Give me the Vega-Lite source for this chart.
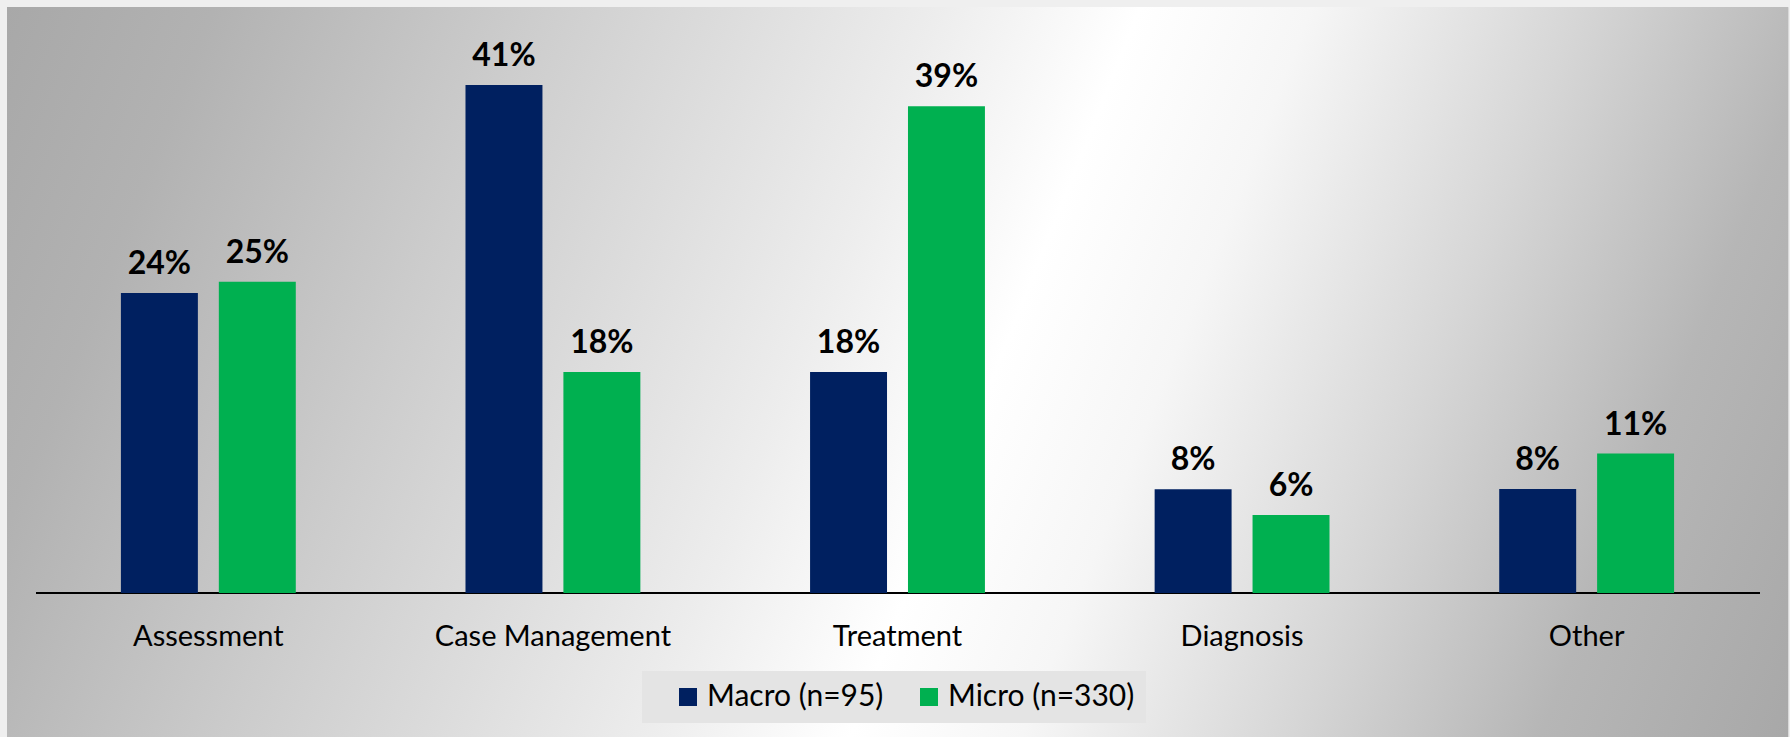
{
  "$schema": "https://vega.github.io/schema/vega-lite/v6.json",
  "autosize": {"type": "fit", "contains": "padding"},
  "width": 1790,
  "height": 737,
  "padding": {"left": 7, "top": 7, "right": 2, "bottom": 0},
  "background": "#efefef",
  "config": {"view": {"stroke": "#d9d9d9", "strokeWidth": 1}, "font": "Lato"},
  "resolve": {"scale": {"x": "independent"}},
  "layer": [
    {
      "data": {"values": [{"bg": 1}]},
      "mark": {
        "type": "rect",
        "fill": {
          "gradient": "linear",
          "x1": 0, "y1": 0, "x2": 1.133, "y2": 0.1847,
          "stops": [
            {"offset": 0, "color": "#a8a8a8"},
            {"offset": 0.1, "color": "#b2b2b2"},
            {"offset": 0.25, "color": "#cccccc"},
            {"offset": 0.45, "color": "#ededed"},
            {"offset": 0.547, "color": "#ffffff"},
            {"offset": 0.63, "color": "#f6f6f6"},
            {"offset": 0.76, "color": "#d6d6d6"},
            {"offset": 0.88, "color": "#b6b6b6"},
            {"offset": 1, "color": "#a8a8a8"}
          ]
        }
      },
      "encoding": {}
    },
    {
      "data": {"values": [{"axisline": 1}]},
      "mark": {"type": "rule", "color": "#000000", "strokeWidth": 2},
      "encoding": {
        "x": {"datum": 0, "type": "quantitative", "scale": {"domain": [-0.01682, 1.01624], "nice": false, "zero": false}, "axis": null},
        "x2": {"datum": 1},
        "y": {"datum": 0, "type": "quantitative", "scale": {"domain": [-0.11566, 0.47068], "nice": false, "zero": false}, "axis": null}
      }
    },
    {
      "data": {
        "values": [
          {"category": "Assessment", "series": "Macro (n=95)", "value": 0.241},
          {"category": "Assessment", "series": "Micro (n=330)", "value": 0.250},
          {"category": "Case Management", "series": "Macro (n=95)", "value": 0.408},
          {"category": "Case Management", "series": "Micro (n=330)", "value": 0.1775},
          {"category": "Treatment", "series": "Macro (n=95)", "value": 0.1775},
          {"category": "Treatment", "series": "Micro (n=330)", "value": 0.391},
          {"category": "Diagnosis", "series": "Macro (n=95)", "value": 0.0833},
          {"category": "Diagnosis", "series": "Micro (n=330)", "value": 0.0627},
          {"category": "Other", "series": "Macro (n=95)", "value": 0.0835},
          {"category": "Other", "series": "Micro (n=330)", "value": 0.112}
        ]
      },
      "encoding": {
        "x": {
          "field": "category", "type": "nominal",
          "sort": ["Assessment", "Case Management", "Treatment", "Diagnosis", "Other"],
          "scale": {"paddingInner": 0.4925, "paddingOuter": 0.3306},
          "axis": {
            "orient": "bottom", "offset": -144, "domain": false, "ticks": false, "grid": false,
            "title": null, "labelAngle": 0, "labelFontSize": 29, "labelFont": "Lato",
            "labelColor": "#000000", "labelPadding": 29, "labelLimit": 0, "zindex": 2
          }
        },
        "xOffset": {"field": "series", "type": "nominal", "scale": {"paddingInner": 0.214, "paddingOuter": 0}},
        "y": {"field": "value", "type": "quantitative", "scale": {"domain": [-0.11566, 0.47068], "nice": false, "zero": false}, "axis": null}
      },
      "layer": [
        {
          "mark": {"type": "bar"},
          "encoding": {
            "y2": {"datum": 0},
            "color": {
              "field": "series", "type": "nominal",
              "scale": {"domain": ["Macro (n=95)", "Micro (n=330)"], "range": ["#002060", "#00b050"]},
              "legend": {
                "orient": "none", "legendX": 635, "legendY": 664, "direction": "horizontal",
                "title": null, "fillColor": "#e4e4e4", "padding": 11,
                "symbolType": "square", "symbolSize": 324, "symbolStrokeWidth": 0, "symbolOffset": 20,
                "labelFontSize": 30, "labelFont": "Lato", "labelColor": "#000000",
                "labelOffset": 4, "columnPadding": 10, "labelLimit": 0, "zindex": 2
              }
            }
          }
        },
        {
          "mark": {"type": "text", "fontWeight": "bold", "fontSize": 32, "font": "Lato", "baseline": "alphabetic", "dy": -19, "color": "#000000"},
          "encoding": {
            "text": {"field": "value", "type": "quantitative", "format": ".0%"}
          }
        }
      ]
    }
  ]
}
